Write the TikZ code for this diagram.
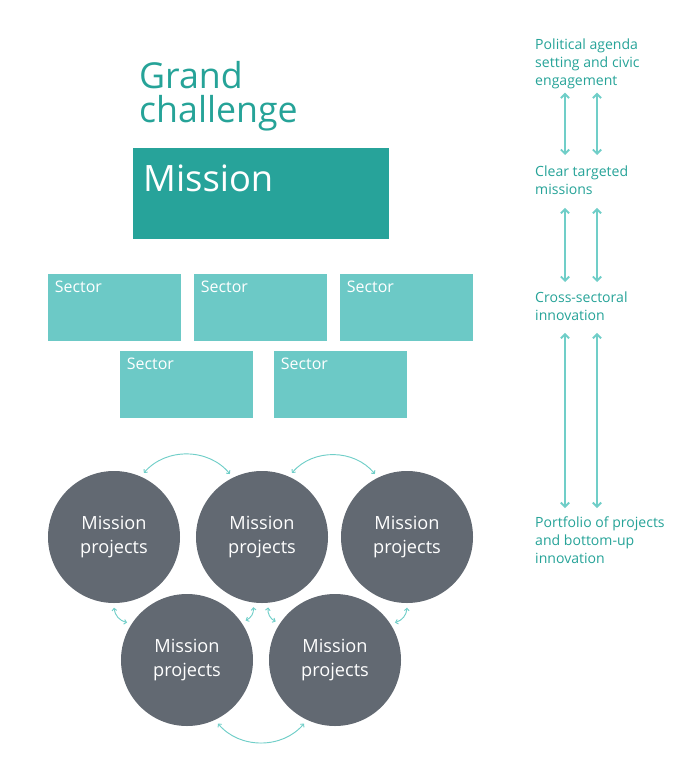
\documentclass[tikz,border=0pt]{standalone}
\usepackage{fontspec}
\setmainfont{Open Sans}
\usetikzlibrary{arrows.meta, positioning, calc}
\definecolor{myteal}{RGB}{38,163,152}
\definecolor{myboxteal}{RGB}{39,163,154}
\definecolor{mylight}{RGB}{108,201,198}
\definecolor{myarrow}{RGB}{112,206,200}
\definecolor{mygrey}{RGB}{98,105,114}
\tikzset{
  missionbox/.style={rectangle, fill=myboxteal, anchor=north west,
    minimum width=7.68cm, minimum height=2.73cm, inner sep=0pt},
  sectorbox/.style={rectangle, fill=mylight, anchor=north west,
    minimum width=3.99cm, minimum height=2.0cm, inner sep=0pt},
  boxlabel/.style={anchor=north west, inner sep=0pt, text=white},
  mproj/.style={circle, fill=mygrey, minimum size=3.96cm, inner sep=0pt,
    outer sep=4pt, text=white, align=center,
    font=\fontsize{15.5}{20.5}\selectfont},
  sidetext/.style={anchor=north west, inner sep=0pt, align=left,
    text=myteal, font=\fontsize{12}{15}\selectfont},
  link/.style={{Straight Barb[length=2pt,width=4pt]}-{Straight Barb[length=2pt,width=4pt]},
    draw=myarrow, line width=0.8pt},
  vlink/.style={{Straight Barb[length=3.5pt,width=7pt]}-{Straight Barb[length=3.5pt,width=7pt]},
    draw=myarrow, line width=1.6pt}
}
\begin{document}
\begin{tikzpicture}[x=0.03cm, y=-0.03cm]
  \useasboundingbox (0,0) rectangle (686,780);
  % grand challenge and mission
  \node[anchor=north west, inner sep=0pt, align=left, text=myteal,
        font=\fontsize{30.5}{29.5}\selectfont] (grand) at (139,61) {Grand\\challenge};
  \node[missionbox] (mission) at (133,148) {};
  \node[boxlabel, font=\fontsize{31}{31}\selectfont,
        xshift=0.3cm, yshift=-0.5cm] at (mission.north west) {Mission};
  % sectors
  \node[sectorbox] (s1) at (48,274) {};
  \node[sectorbox] (s2) at (194,274) {};
  \node[sectorbox] (s3) at (340,274) {};
  \node[sectorbox] (s4) at (120,351) {};
  \node[sectorbox] (s5) at (274,351) {};
  \node[boxlabel, font=\fontsize{13.6}{16}\selectfont, xshift=0.2cm, yshift=-0.21cm] at (s1.north west) {Sector};
  \node[boxlabel, font=\fontsize{13.6}{16}\selectfont, xshift=0.2cm, yshift=-0.21cm] at (s2.north west) {Sector};
  \node[boxlabel, font=\fontsize{13.6}{16}\selectfont, xshift=0.2cm, yshift=-0.21cm] at (s3.north west) {Sector};
  \node[boxlabel, font=\fontsize{13.6}{16}\selectfont, xshift=0.2cm, yshift=-0.21cm] at (s4.north west) {Sector};
  \node[boxlabel, font=\fontsize{13.6}{16}\selectfont, xshift=0.2cm, yshift=-0.21cm] at (s5.north west) {Sector};
  % mission projects
  \node[mproj] (p1) at (114,537) {Mission\\projects};
  \node[mproj] (p2) at (262,537) {Mission\\projects};
  \node[mproj] (p3) at (407,537) {Mission\\projects};
  \node[mproj] (p4) at (187,660) {Mission\\projects};
  \node[mproj] (p5) at (335,660) {Mission\\projects};
  % links between projects
  \draw[link] (p1.65) to[bend left=50] (p2.117);
  \draw[link] (p2.65) to[bend left=50] (p3.117);
  \draw[link] (p4.-64) to[bend right=50] (p5.-116);
  \draw[link] (p1.-90) to[bend right=35] (p4.148);
  \draw[link] (p2.-97) to[bend left=35] (p4.34);
  \draw[link] (p2.-85) to[bend right=35] (p5.147);
  \draw[link] (p3.-90) to[bend left=35] (p5.32);
  % right column
  \node[sidetext] (pol) at (535,39) {Political agenda\\setting and civic\\engagement};
  \node[sidetext] (clear) at (535,166) {Clear targeted\\missions};
  \node[sidetext] (cross) at (535,292) {Cross-sectoral\\innovation};
  \node[sidetext] (port) at (535,517) {Portfolio of projects\\and bottom-up\\innovation};
  \draw[vlink] ($(pol.south west)+(30,4)$) -- ($(clear.north west)+(30,-11)$);
  \draw[vlink] ($(pol.south west)+(62,4)$) -- ($(clear.north west)+(62,-11)$);
  \draw[vlink] ($(clear.south west)+(30,13)$) -- ($(cross.north west)+(30,-10)$);
  \draw[vlink] ($(clear.south west)+(62,13)$) -- ($(cross.north west)+(62,-10)$);
  \draw[vlink] ($(cross.south west)+(30,12)$) -- ($(port.north west)+(30,-9)$);
  \draw[vlink] ($(cross.south west)+(62,12)$) -- ($(port.north west)+(62,-9)$);
\end{tikzpicture}
\end{document}
